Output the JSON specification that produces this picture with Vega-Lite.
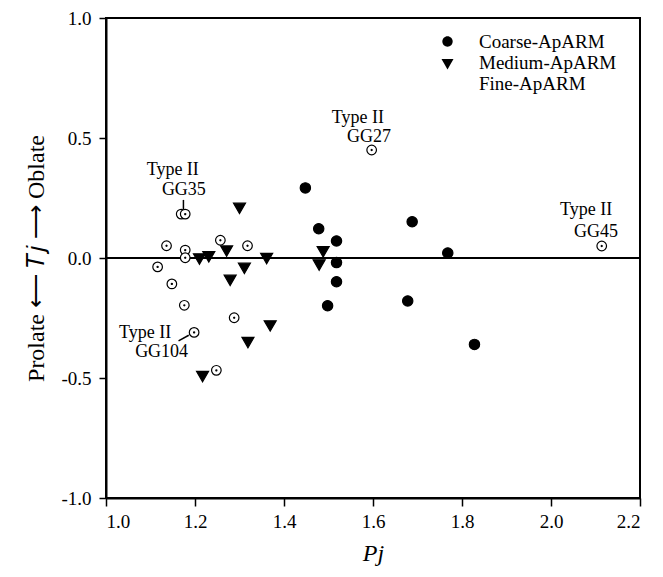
{
  "$schema": "https://vega.github.io/schema/vega-lite/v6.json",
  "width": 534,
  "height": 480,
  "autosize": "none",
  "padding": {"left": 106, "top": 18, "right": 23, "bottom": 79},
  "background": "white",
  "config": {
    "view": {"stroke": "black", "strokeWidth": 2},
    "font": "Liberation Serif",
    "axis": {
      "grid": false,
      "domainColor": "black",
      "domainWidth": 2,
      "tickColor": "black",
      "tickWidth": 1.5,
      "tickSize": 8,
      "labelFont": "Liberation Serif",
      "labelFontSize": 19,
      "labelColor": "black",
      "titleFont": "Liberation Serif",
      "titleFontSize": 24,
      "titleFontWeight": "normal",
      "titleColor": "black"
    },
    "legend": {
      "labelFont": "Liberation Serif",
      "labelFontSize": 19,
      "labelColor": "black",
      "symbolStrokeColor": "black",
      "symbolStrokeWidth": 1.2,
      "symbolSize": 144,
      "rowPadding": 1,
      "padding": 0,
      "labelOffset": 22
    }
  },
  "datasets": {
    "pts": [
      {"group": "Coarse-ApARM", "Pj": 1.448, "Tj": 0.292},
      {"group": "Coarse-ApARM", "Pj": 1.478, "Tj": 0.122},
      {"group": "Coarse-ApARM", "Pj": 1.518, "Tj": 0.071},
      {"group": "Coarse-ApARM", "Pj": 1.518, "Tj": -0.019},
      {"group": "Coarse-ApARM", "Pj": 1.518, "Tj": -0.099},
      {"group": "Coarse-ApARM", "Pj": 1.498, "Tj": -0.199},
      {"group": "Coarse-ApARM", "Pj": 1.688, "Tj": 0.151},
      {"group": "Coarse-ApARM", "Pj": 1.768, "Tj": 0.021},
      {"group": "Coarse-ApARM", "Pj": 1.678, "Tj": -0.179},
      {"group": "Coarse-ApARM", "Pj": 1.828, "Tj": -0.36},
      {"group": "Medium-ApARM", "Pj": 1.30, "Tj": 0.214},
      {"group": "Medium-ApARM", "Pj": 1.21, "Tj": 0.003},
      {"group": "Medium-ApARM", "Pj": 1.231, "Tj": 0.012},
      {"group": "Medium-ApARM", "Pj": 1.271, "Tj": 0.036},
      {"group": "Medium-ApARM", "Pj": 1.311, "Tj": -0.036},
      {"group": "Medium-ApARM", "Pj": 1.279, "Tj": -0.086},
      {"group": "Medium-ApARM", "Pj": 1.361, "Tj": 0.005},
      {"group": "Medium-ApARM", "Pj": 1.369, "Tj": -0.276},
      {"group": "Medium-ApARM", "Pj": 1.319, "Tj": -0.345},
      {"group": "Medium-ApARM", "Pj": 1.217, "Tj": -0.487},
      {"group": "Medium-ApARM", "Pj": 1.488, "Tj": 0.033},
      {"group": "Medium-ApARM", "Pj": 1.479, "Tj": -0.022},
      {"group": "Fine-ApARM", "Pj": 1.169, "Tj": 0.183},
      {"group": "Fine-ApARM", "Pj": 1.178, "Tj": 0.183},
      {"group": "Fine-ApARM", "Pj": 1.136, "Tj": 0.051},
      {"group": "Fine-ApARM", "Pj": 1.178, "Tj": 0.033},
      {"group": "Fine-ApARM", "Pj": 1.178, "Tj": 0.001},
      {"group": "Fine-ApARM", "Pj": 1.116, "Tj": -0.037},
      {"group": "Fine-ApARM", "Pj": 1.148, "Tj": -0.108},
      {"group": "Fine-ApARM", "Pj": 1.176, "Tj": -0.197},
      {"group": "Fine-ApARM", "Pj": 1.198, "Tj": -0.31},
      {"group": "Fine-ApARM", "Pj": 1.248, "Tj": -0.468},
      {"group": "Fine-ApARM", "Pj": 1.257, "Tj": 0.074},
      {"group": "Fine-ApARM", "Pj": 1.318, "Tj": 0.051},
      {"group": "Fine-ApARM", "Pj": 1.288, "Tj": -0.249},
      {"group": "Fine-ApARM", "Pj": 1.597, "Tj": 0.45},
      {"group": "Fine-ApARM", "Pj": 2.114, "Tj": 0.05}
    ],
    "labels": [
      {"text": "Type II", "Pj": 1.150, "Tj": 0.346},
      {"text": "GG35", "Pj": 1.175, "Tj": 0.2625},
      {"text": "Type II", "Pj": 1.088, "Tj": -0.333},
      {"text": "GG104", "Pj": 1.125, "Tj": -0.4125},
      {"text": "Type II", "Pj": 1.566, "Tj": 0.5625},
      {"text": "GG27", "Pj": 1.591, "Tj": 0.483},
      {"text": "Type II", "Pj": 2.079, "Tj": 0.179},
      {"text": "GG45", "Pj": 2.101, "Tj": 0.0875}
    ],
    "leaders": [
      {"Pj": 1.174, "Tj": 0.242, "Pj2": 1.174, "Tj2": 0.2},
      {"Pj": 1.163, "Tj": -0.345, "Pj2": 1.186, "Tj2": -0.322}
    ]
  },
  "layer": [
    {
      "data": {"values": [{"z": 0}]},
      "mark": {"type": "rule", "color": "black", "strokeWidth": 2},
      "encoding": {
        "y": {"field": "z", "type": "quantitative", "scale": {"domain": [-1, 1]}}
      }
    },
    {
      "data": {"name": "leaders"},
      "mark": {"type": "rule", "color": "black", "strokeWidth": 1.5},
      "encoding": {
        "x": {"field": "Pj", "type": "quantitative"},
        "x2": {"field": "Pj2"},
        "y": {"field": "Tj", "type": "quantitative"},
        "y2": {"field": "Tj2"}
      }
    },
    {
      "data": {"name": "labels"},
      "mark": {"type": "text", "font": "Liberation Serif", "fontSize": 18, "align": "center", "baseline": "alphabetic", "color": "black"},
      "encoding": {
        "x": {"field": "Pj", "type": "quantitative"},
        "y": {"field": "Tj", "type": "quantitative"},
        "text": {"field": "text"}
      }
    },
    {
      "data": {"name": "pts"},
      "mark": {"type": "point", "filled": true, "stroke": "black", "strokeWidth": 1.2, "opacity": 1, "size": 144},
      "encoding": {
        "x": {
          "field": "Pj", "type": "quantitative",
          "scale": {"domain": [1.0, 2.2], "nice": false, "zero": false},
          "axis": {"title": "Pj", "titleFont": "Liberation Serif", "titleFontStyle": "italic", "titleFontSize": 24, "titleFontWeight": "normal", "labelFont": "Liberation Serif", "labelFontSize": 19, "values": [1.0, 1.2, 1.4, 1.6, 1.8, 2.0, 2.2], "labelExpr": "replace(format(datum.value, '.1f'), '\u2212', '-')", "labelPadding": 6, "titlePadding": 10}
        },
        "y": {
          "field": "Tj", "type": "quantitative",
          "scale": {"domain": [-1, 1], "nice": false, "zero": false},
          "axis": {"title": "Prolate ⟵ 𝑇𝑗 ⟶ Oblate", "titleFont": "Liberation Serif", "titleFontSize": 24, "titleFontWeight": "normal", "labelFont": "Liberation Serif", "labelFontSize": 19, "values": [-1, -0.5, 0, 0.5, 1], "labelExpr": "replace(format(datum.value, '.1f'), '\u2212', '-')", "tickSize": 7, "labelPadding": 8, "titlePadding": 12}
        },
        "shape": {
          "field": "group", "type": "nominal", "title": null,
          "scale": {"domain": ["Coarse-ApARM", "Medium-ApARM", "Fine-ApARM"], "range": ["M-0.86,0A0.86,0.86,0,1,1,0.86,0A0.86,0.86,0,1,1,-0.86,0Z", "M-1,-0.58L1,-0.58L0,1.15Z", "M-0.8,0A0.8,0.8,0,1,1,0.8,0A0.8,0.8,0,1,1,-0.8,0ZM-0.09,0A0.09,0.09,0,1,1,0.09,0A0.09,0.09,0,1,1,-0.09,0Z"]},
          "legend": {"orient": "none", "legendX": 332, "legendY": 14, "symbolStrokeColor": "black", "encode": {"symbols": {"update": {"stroke": {"value": "black"}, "strokeWidth": {"value": 1.2}}}}}
        },
        "fill": {
          "field": "group", "type": "nominal", "title": null,
          "scale": {"domain": ["Coarse-ApARM", "Medium-ApARM", "Fine-ApARM"], "range": ["black", "black", "white"]},
          "legend": {"orient": "none", "legendX": 332, "legendY": 14, "symbolStrokeColor": "black", "encode": {"symbols": {"update": {"stroke": {"value": "black"}, "strokeWidth": {"value": 1.2}}}}}
        }
      }
    }
  ]
}
